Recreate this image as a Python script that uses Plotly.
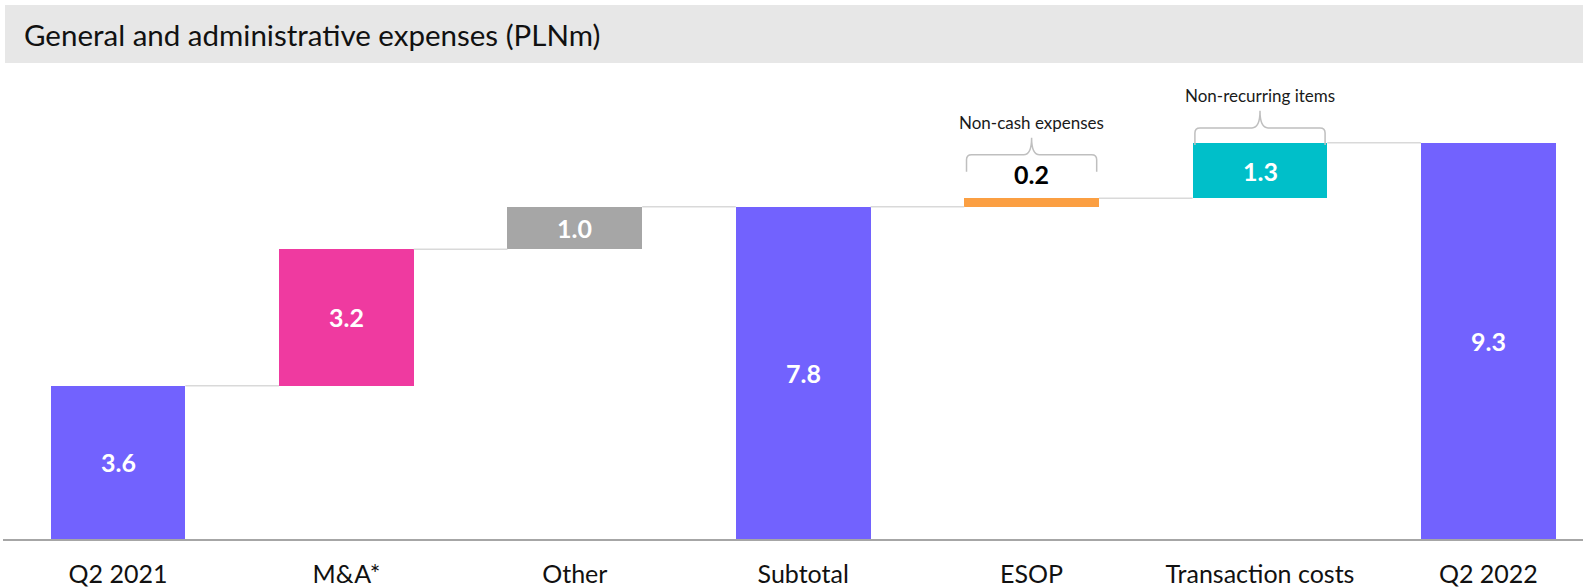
import plotly.graph_objects as go

# ---- data -------------------------------------------------------------
categories = ["Q2 2021", "M&A*", "Other", "Subtotal", "ESOP", "Transaction costs", "Q2 2022"]
values = [3.6, 3.2, 1.0, 7.8, 0.2, 1.3, 9.3]
measures = ["absolute", "relative", "relative", "total", "relative", "relative", "total"]
bar_colors = ["#7262FE", "#EF3AA0", "#A6A6A6", "#7262FE", "#FB9F42", "#00BFC9", "#7262FE"]
label_colors = ["white", "white", "white", "white", "black", "white", "white"]
bracket_groups = [("Non-cash expenses", 4), ("Non-recurring items", 5)]

# ---- waterfall geometry ------------------------------------------------
bases, tops = [], []
running = 0.0
for v, m in zip(values, measures):
    if m == "relative":
        base = running
        running = running + v
    else:
        base = 0.0
        running = v
    bases.append(base)
    tops.append(base + v)

W, H = 1583, 587
FONT = "Lato"
BAR_W = 0.59
xs = list(range(len(categories)))

fig = go.Figure()

# connectors between consecutive bars at the running level
for i in range(len(categories) - 1):
    level = tops[i]
    fig.add_trace(go.Scatter(
        x=[xs[i] + BAR_W / 2, xs[i + 1] - BAR_W / 2], y=[level, level],
        mode="lines", line=dict(color="#D9D9D9", width=1.5),
        hoverinfo="skip", showlegend=False,
    ))

fig.add_trace(go.Bar(
    x=xs, y=values, base=bases, width=BAR_W,
    marker=dict(color=bar_colors, line=dict(width=0)),
    showlegend=False, hoverinfo="skip",
))

annotations = []
# value labels: inside the bar, or above it when the bar is too thin
for i, (v, b, t) in enumerate(zip(values, bases, tops)):
    if v >= 0.5:
        annotations.append(dict(
            x=xs[i], y=(b + t) / 2, text=f"<b>{v:.1f}</b>", showarrow=False,
            font=dict(family=FONT, size=25, color=label_colors[i]),
            xanchor="center", yanchor="middle",
        ))
    else:
        annotations.append(dict(
            x=xs[i], y=t, text=f"<b>{v:.1f}</b>", showarrow=False,
            font=dict(family=FONT, size=25, color=label_colors[i]),
            xanchor="center", yanchor="middle", yshift=24,
        ))

# curly brackets over grouped items
shapes = []
for text, idx in bracket_groups:
    top = tops[idx]
    lift = 0.62 if values[idx] < 0.5 else -0.05
    yb = top + lift          # leg ends
    yh = yb + 0.40           # horizontal stroke
    yp = yh + 0.40           # central point
    x0 = xs[idx] - BAR_W / 2 + 0.01
    x1 = xs[idx] + BAR_W / 2 - 0.01
    xm = xs[idx]
    rx, ry, cx = 0.022, 0.12, 0.035
    path = (f"M {x0},{yb} L {x0},{yh - ry} Q {x0},{yh} {x0 + rx},{yh} "
            f"L {xm - cx},{yh} Q {xm},{yh} {xm},{yp} "
            f"Q {xm},{yh} {xm + cx},{yh} "
            f"L {x1 - rx},{yh} Q {x1},{yh} {x1},{yh - ry} L {x1},{yb}")
    shapes.append(dict(type="path", path=path, xref="x", yref="y",
                       line=dict(color="#BFBFBF", width=1.5)))
    annotations.append(dict(
        x=xm, y=yp, text=text, showarrow=False, xanchor="center", yanchor="bottom",
        yshift=3, font=dict(family=FONT, size=17, color="#1A1A1A"),
    ))

# title band
shapes.append(dict(type="rect", xref="paper", yref="paper",
                   x0=5 / W, x1=1, y0=1 - 63 / H, y1=1 - 5 / H,
                   fillcolor="#E7E7E7", line=dict(width=0), layer="below"))
annotations.append(dict(
    xref="paper", yref="paper", x=22 / W, y=1 - 34 / H,
    text="General and administrative expenses (PLNm)", showarrow=False,
    xanchor="left", yanchor="middle",
    font=dict(family=FONT, size=29.5, color="#111111"),
))

# axis placement
PX_PER_UNIT_X = 228.4
PX_PER_UNIT_Y = 42.6
X_CENTER0 = 118
BASE_PX = 539
TOP_PX = 75
x_left = (3 - X_CENTER0) / PX_PER_UNIT_X
x_right = (W - X_CENTER0) / PX_PER_UNIT_X

fig.update_layout(
    width=W, height=H,
    margin=dict(l=0, r=0, t=0, b=0),
    paper_bgcolor="white", plot_bgcolor="white",
    shapes=shapes, annotations=annotations,
    bargap=0,
    xaxis=dict(
        domain=[3 / W, 1], range=[x_left, x_right],
        tickmode="array", tickvals=xs, ticktext=categories,
        tickfont=dict(family=FONT, size=25, color="#111111"),
        showgrid=False, zeroline=False,
        showline=True, linecolor="#A6A6A6", linewidth=2,
        ticks="outside", ticklen=12, tickcolor="rgba(0,0,0,0)",
    ),
    yaxis=dict(
        domain=[(H - BASE_PX) / H, (H - TOP_PX) / H],
        range=[0, (BASE_PX - TOP_PX) / PX_PER_UNIT_Y],
        visible=False, showgrid=False, zeroline=False,
    ),
)

fig.write_html("out.html")
